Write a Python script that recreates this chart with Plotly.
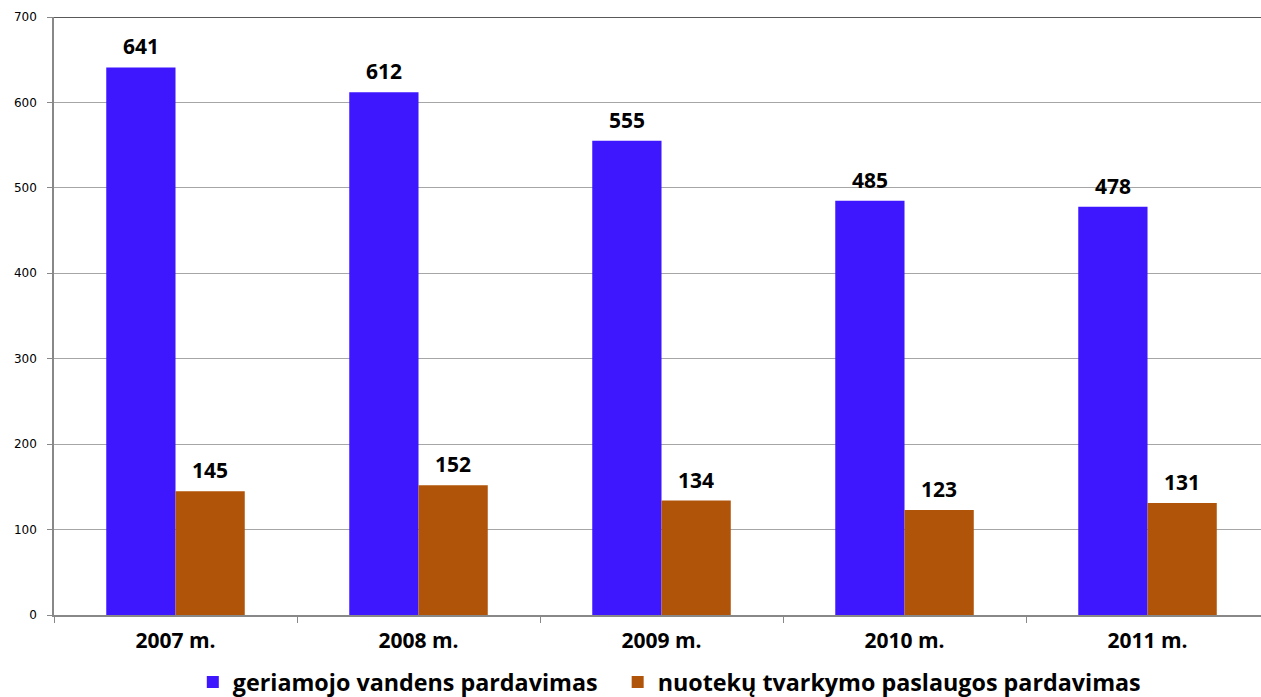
import plotly.graph_objects as go

years = ["2007 m.", "2008 m.", "2009 m.", "2010 m.", "2011 m."]
water = [641, 612, 555, 485, 478]
sewage = [145, 152, 134, 123, 131]
series_names = ["geriamojo vandens pardavimas", "nuotekų tvarkymo paslaugos pardavimas"]
y_ticks = [0, 100, 200, 300, 400, 500, 600, 700]

BLUE = "#3F17FF"
ORANGE = "#B0540A"
BARGAP = 0.43

fig = go.Figure()
fig.add_trace(go.Bar(x=years, y=water, name=series_names[0], legend="legend",
                     marker=dict(color=BLUE, line=dict(width=0))))
fig.add_trace(go.Bar(x=years, y=sewage, name=series_names[1], legend="legend2",
                     marker=dict(color=ORANGE, line=dict(width=0))))

half = (1 - BARGAP) / 4
annotations = []
for i, (w, s) in enumerate(zip(water, sewage)):
    for val, off in ((w, -half), (s, half)):
        annotations.append(dict(x=i + off, y=val, xref="x", yref="y", text=str(val),
                                showarrow=False, yanchor="bottom", yshift=5,
                                font=dict(family="Open Sans", size=21, color="black", weight="bold")))

legend_font = dict(family="Open Sans", size=23.3, color="black", weight="bold")
fig.update_layout(
    width=1261, height=697,
    margin=dict(l=54, r=0, t=17, b=82, autoexpand=False),
    plot_bgcolor="white", paper_bgcolor="white",
    barmode="group", bargap=BARGAP, bargroupgap=0,
    showlegend=True,
    legend=dict(orientation="h", x=0.115, xanchor="left", y=-0.076, yanchor="top",
                font=legend_font, itemwidth=30),
    legend2=dict(orientation="h", x=0.467, xanchor="left", y=-0.076, yanchor="top",
                 font=legend_font, itemwidth=30),
    annotations=annotations,
    shapes=[dict(type="line", xref="paper", yref="y", x0=0, x1=1, y0=700, y1=700,
                 line=dict(color="#222222", width=1.5))],
)
fig.update_xaxes(
    automargin=False,
    range=[-0.5, 4.467],
    showline=True, linecolor="#888888", linewidth=1.5,
    ticks="outside", tickson="boundaries", ticklen=6, tickcolor="#888888",
    tickfont=dict(family="Open Sans", size=21, color="black", weight="bold"),
    ticklabelstandoff=6,
    showgrid=False,
)
fig.update_yaxes(
    automargin=False,
    range=[0, 700], tickvals=y_ticks,
    showline=True, linecolor="#888888", linewidth=1.5,
    ticks="outside", ticklen=5, tickcolor="#888888",
    tickfont=dict(family="DejaVu Sans", size=12, color="black"),
    ticklabelstandoff=8,
    showgrid=True, gridcolor="#A6A6A6", gridwidth=1, zeroline=False,
)

fig.write_html("out.html", config={"displayModeBar": False},
               post_script="document.body.style.margin='0';")
